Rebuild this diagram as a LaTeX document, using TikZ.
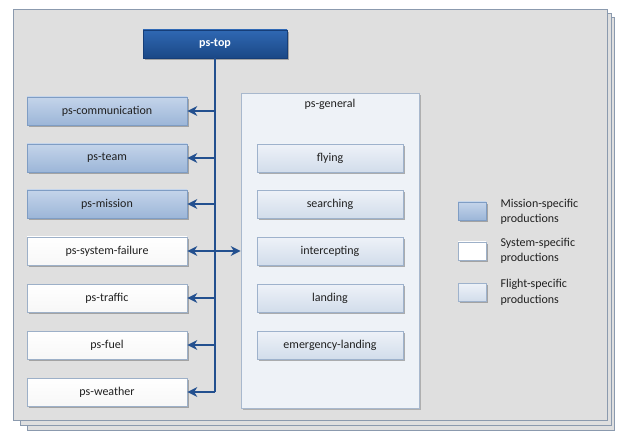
\documentclass[tikz,border=0pt]{standalone}
\usepackage{fontspec}
\setmainfont{Carlito}
\usetikzlibrary{arrows.meta,shadows}
\definecolor{sheetfill}{HTML}{DFDFDF}
\definecolor{sheetedge}{HTML}{8B9AAE}
\definecolor{linkblue}{HTML}{23508F}
\definecolor{textgray}{HTML}{202020}
\definecolor{MTop}{HTML}{C4D4EA}
\definecolor{MBot}{HTML}{9CB6D8}
\definecolor{MEdge}{HTML}{7F9DC4}
\definecolor{SEdge}{HTML}{9DB0C8}
\definecolor{FTop}{HTML}{EEF2F8}
\definecolor{FBot}{HTML}{D2DDEB}
\definecolor{FEdge}{HTML}{9EB2CC}
\definecolor{TTop}{HTML}{2F68B3}
\definecolor{TBot}{HTML}{1B4886}
\definecolor{TEdge}{HTML}{163E78}
\definecolor{GenFill}{HTML}{EEF2F7}
\definecolor{GenEdge}{HTML}{A8B8CD}
\tikzset{
  sheet/.style={draw=sheetedge, line width=1pt, fill=sheetfill},
  boxbase/.style={rectangle, draw=#1, line width=0.7pt, text=textgray,
    font=\fontsize{12}{14}\selectfont,
    drop shadow={shadow xshift=1.6pt, shadow yshift=-1.6pt, fill=black!55, opacity=0.55}},
  missionbox/.style={boxbase=MEdge, top color=MTop, bottom color=MBot,
    minimum width=160pt, minimum height=28pt},
  systembox/.style={boxbase=SEdge, top color=white, bottom color=white!97!black,
    minimum width=160pt, minimum height=28pt},
  flightbox/.style={boxbase=FEdge, top color=FTop, bottom color=FBot,
    minimum width=146pt, minimum height=28pt},
  topbox/.style={boxbase=TEdge, top color=TTop, bottom color=TBot, text=white,
    font=\fontsize{12}{14}\selectfont\bfseries, minimum width=144pt, minimum height=28pt},
  swatch/.style={boxbase=#1, minimum width=28pt, minimum height=18pt},
  legendtext/.style={anchor=west, align=left, text=textgray,
    font=\fontsize{12}{15.5}\selectfont},
  link/.style={draw=linkblue, line width=1.5pt},
  arr/.style={link, -{Stealth[length=10pt,width=10pt]}},
  arrboth/.style={link, {Stealth[length=10pt,width=10pt]}-{Stealth[length=10pt,width=10pt]}},
}
\begin{document}
\begin{tikzpicture}[x=1pt,y=-1pt]
  \useasboundingbox (0,0) rectangle (620,435);
  \fill[white] (0,0) rectangle (620,435);

  % stacked background sheets
  \draw[sheet] (27,18) rectangle (614,430);
  \draw[sheet] (20,14) rectangle (611,425);
  \draw[sheet] (13,10) rectangle (607,420);

  % ps-general container
  \node[rectangle, draw=GenEdge, fill=GenFill, line width=0.7pt,
        minimum width=178pt, minimum height=315pt,
        drop shadow={shadow xshift=1.6pt, shadow yshift=-1.6pt, fill=black!50, opacity=0.5}]
        (general) at (330,250.5) {};
  \node[text=textgray, font=\fontsize{12}{14}\selectfont] (genlabel) at (330,104) {ps-general};

  % top node
  \node[topbox] (top) at (215,44) {ps-top};

  % left column
  \node[missionbox] (comm) at (107,111) {ps-communication};
  \node[missionbox] (team) at (107,158) {ps-team};
  \node[missionbox] (mission) at (107,204) {ps-mission};
  \node[systembox] (sysfail) at (107,251) {ps-system-failure};
  \node[systembox] (traffic) at (107,298) {ps-traffic};
  \node[systembox] (fuel) at (107,345) {ps-fuel};
  \node[systembox] (weather) at (107,392) {ps-weather};

  % flight productions
  \node[flightbox] (flying) at (330,158) {flying};
  \node[flightbox] (searching) at (330,204) {searching};
  \node[flightbox] (intercepting) at (330,251) {intercepting};
  \node[flightbox] (landing) at (330,298) {landing};
  \node[flightbox] (emergency) at (330,345) {emergency-landing};

  % connectors
  \draw[link] (top.south) -- (top.south |- weather.east);
  \foreach \n in {comm,team,mission,traffic,fuel,weather}
    \draw[arr] (top.south |- \n.east) -- (\n.east);
  \draw[arrboth] (sysfail.east) -- (sysfail.east -| general.west);

  % legend
  \node[swatch=MEdge, top color=MTop, bottom color=MBot] (lm) at (472,211) {};
  \node[legendtext] (lmt) at (497,212) {Mission-specific\\productions};
  \node[swatch=SEdge, top color=white, bottom color=white] (ls) at (472,251) {};
  \node[legendtext] (lst) at (497,251) {System-specific\\productions};
  \node[swatch=FEdge, top color=FTop, bottom color=FBot] (lf) at (472,292) {};
  \node[legendtext] (lft) at (497,292.5) {Flight-specific\\productions};
\end{tikzpicture}
\end{document}
